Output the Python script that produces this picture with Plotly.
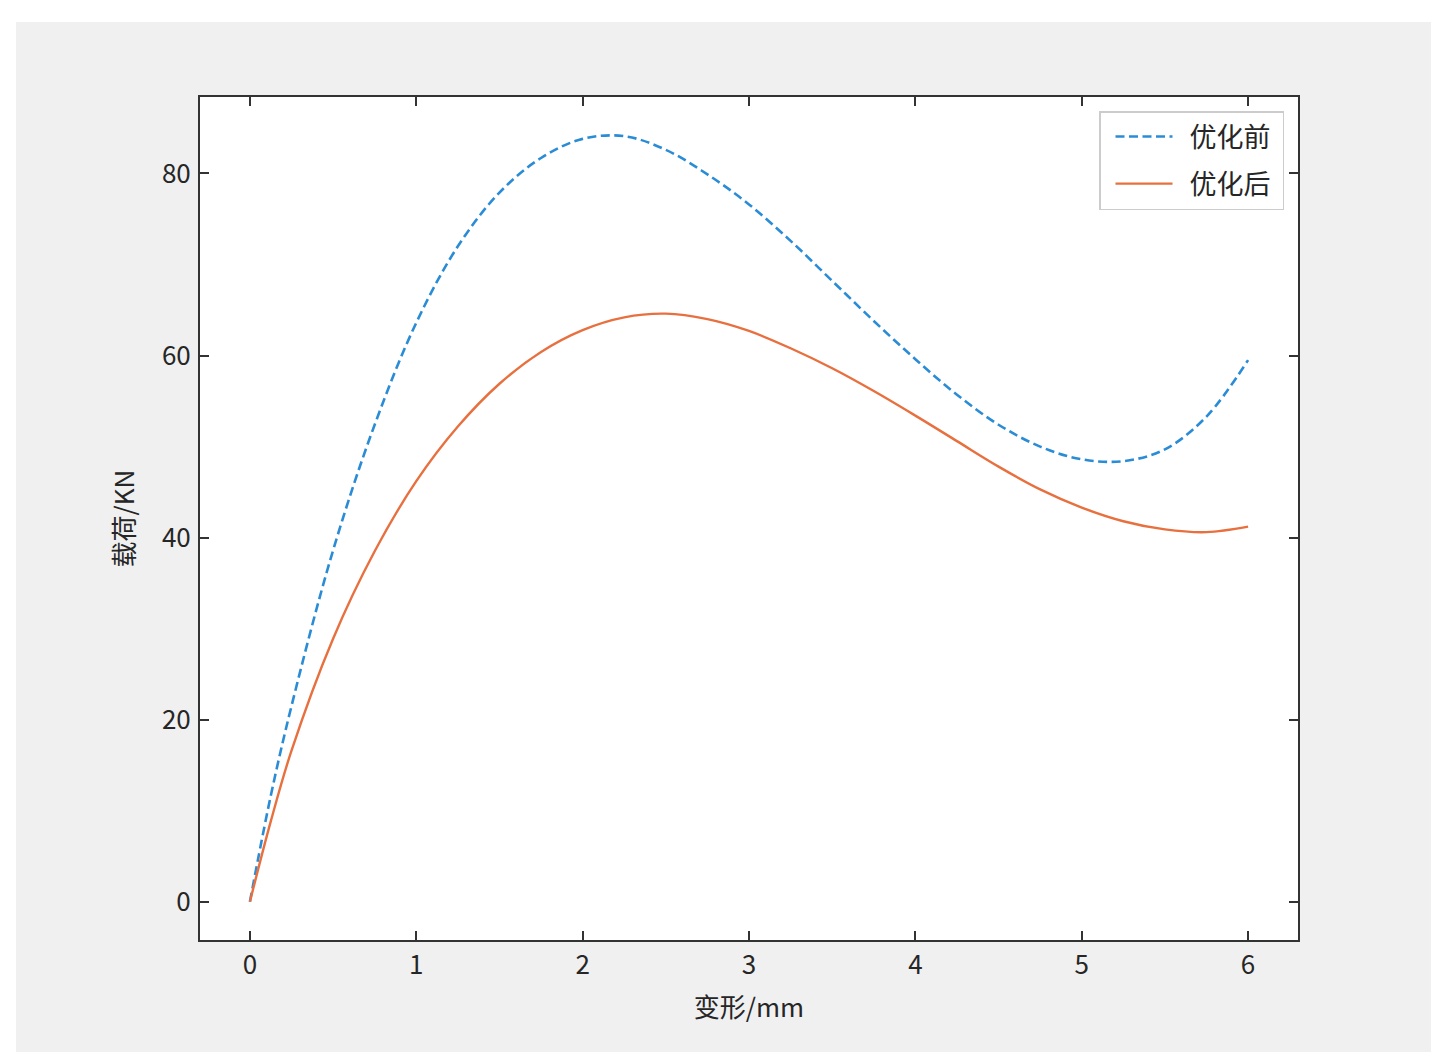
import plotly.graph_objects as go

# deformation (mm)
x_vals = [0, 0.125, 0.25, 0.5, 0.75, 1.0, 1.25, 1.5, 1.75, 2.0, 2.25, 2.5, 2.75, 3.0,
          3.25, 3.5, 3.75, 4.0, 4.25, 4.5, 4.75, 5.0, 5.25, 5.5, 5.75, 6.0]
# load before optimisation (KN)
before = [0, 11.6, 21.5, 38.6, 52.4, 63.6, 72.0, 77.9, 81.7, 83.8, 84.1, 82.6, 79.9, 76.6,
          72.6, 68.2, 63.8, 59.6, 55.7, 52.4, 50.0, 48.6, 48.4, 49.7, 53.3, 59.5]
# load after optimisation (KN)
after = [0, 8.8, 16.6, 28.9, 38.5, 46.2, 52.2, 56.9, 60.4, 62.8, 64.2, 64.6, 64.0, 62.7,
         60.8, 58.6, 56.1, 53.4, 50.6, 47.8, 45.3, 43.3, 41.8, 40.9, 40.6, 41.2]

series_names = ["优化前", "优化后"]
x_ticks = [0, 1, 2, 3, 4, 5, 6]
y_ticks = [0, 20, 40, 60, 80]

W, H = 1456, 1064
L, R, T, B = 200, 1298, 97, 940
FONT = "Noto Sans CJK SC, Noto Sans, sans-serif"
TXT = "#262626"
NB = "\u00a0\u00a0"

fig = go.Figure()
fig.add_trace(go.Scatter(x=x_vals, y=before, name=NB + series_names[0] + "\u00a0", mode="lines", legendgroup="g1",
                         line=dict(color="#2b8cd6", width=2.6, dash="9px,4.5px", shape="spline", smoothing=1.0)))
fig.add_trace(go.Scatter(x=x_vals, y=after, name=NB + series_names[1] + "\u00a0", mode="lines", legendgroup="g2",
                         line=dict(color="#e8703f", width=2.4, shape="spline", smoothing=1.0)))

def px2paper_x(px):
    return (px - L) / (R - L)

def px2paper_y(py):
    return (B - py) / (B - T)

# white outer strips around the gray figure panel
strips = [(0, 0, 16, H), (1431, 0, W, H), (0, 0, W, 22), (0, 1052, W, H)]
for (a, b, c, d) in strips:
    fig.add_shape(type="rect", xref="paper", yref="paper",
                  x0=px2paper_x(a), x1=px2paper_x(c), y0=px2paper_y(d), y1=px2paper_y(b),
                  fillcolor="white", line=dict(width=0), layer="below")

axis_common = dict(showgrid=False, zeroline=False, showline=True, linecolor="#333333", linewidth=2,
                   mirror="ticks", ticks="inside", ticklen=9, tickwidth=2, tickcolor="#333333",
                   tickfont=dict(family=FONT, size=26, color=TXT))

fig.update_layout(
    width=W, height=H,
    margin=dict(l=L, r=W - R, t=T, b=H - B, pad=0),
    paper_bgcolor="#f0f0f0", plot_bgcolor="white",
    font=dict(family=FONT, color=TXT),
    xaxis=dict(range=[-0.3, 6.3], tickvals=x_ticks, ticktext=[str(v) for v in x_ticks],
               title=dict(text="变形/mm", font=dict(family=FONT, size=26, color=TXT), standoff=19),
               ticklabelstandoff=1, **axis_common),
    yaxis=dict(range=[-4.2, 88.4], tickvals=y_ticks, ticktext=[str(v) for v in y_ticks],
               title=dict(text="载荷/KN", font=dict(family=FONT, size=26, color=TXT), standoff=20),
               ticklabelstandoff=2, **axis_common),
    legend=dict(x=px2paper_x(1284), y=px2paper_y(111), xanchor="right", yanchor="top",
                bgcolor="rgba(255,255,255,0.9)", bordercolor="#cccccc", borderwidth=1.5,
                font=dict(family=FONT, size=27, color=TXT), itemwidth=57, tracegroupgap=9,
                indentation=10),
    showlegend=True,
)

fig.write_html("out.html")
